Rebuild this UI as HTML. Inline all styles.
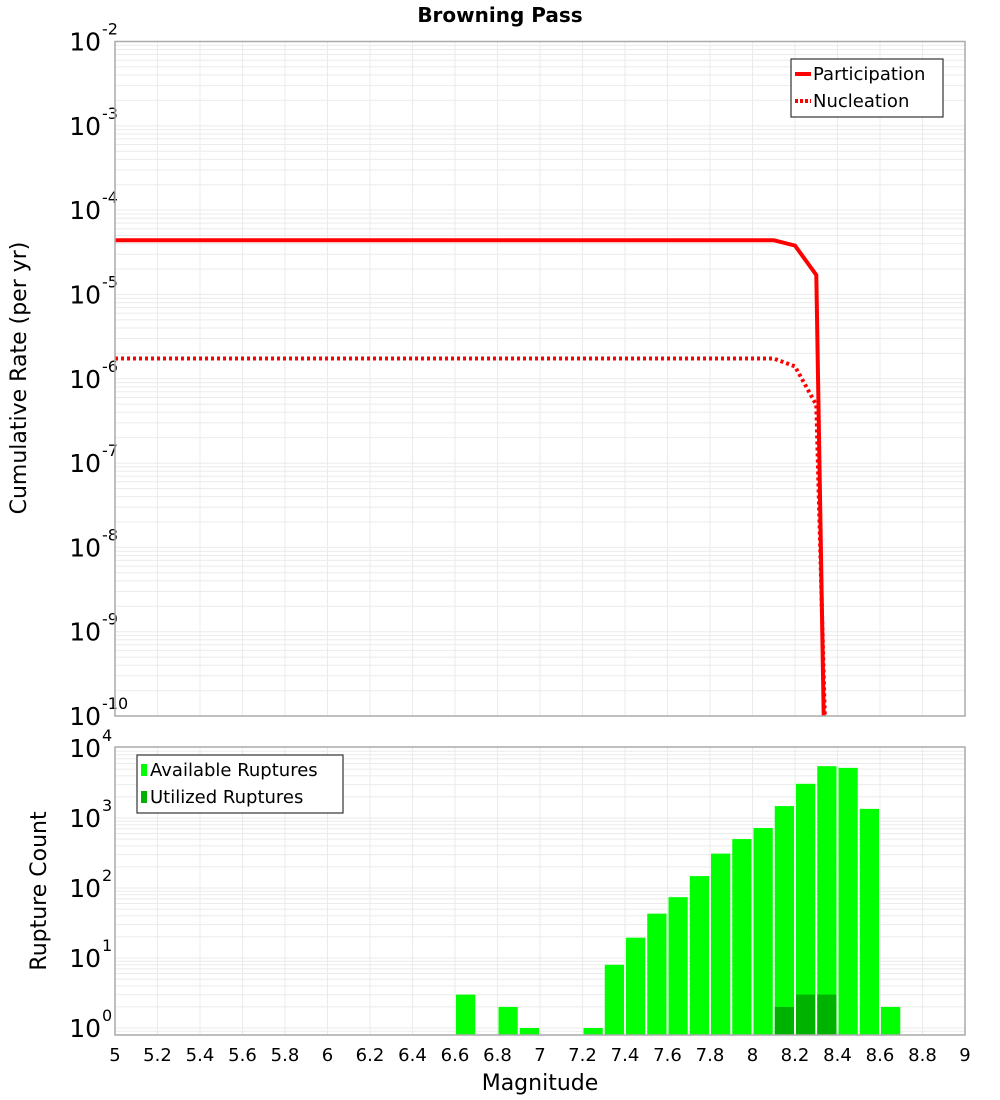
<!DOCTYPE html>
<html><head><meta charset="utf-8"><style>
html,body{margin:0;padding:0;background:#fff;}
svg{display:block;font-family:"DejaVu Sans","Liberation Sans",sans-serif;}
</style></head><body>
<svg id="chart" width="1000" height="1100" viewBox="0 0 1000 1100" xmlns="http://www.w3.org/2000/svg">
<text x="500" y="22" text-anchor="middle" font-size="20" font-weight="bold" fill="#000">Browning Pass</text>
<g id="topplot"></g>
<g id="botplot"></g>
<text transform="translate(26,378) rotate(-90)" text-anchor="middle" font-size="22" fill="#000">Cumulative Rate (per yr)</text>
<text transform="translate(46,891) rotate(-90)" text-anchor="middle" font-size="22" fill="#000">Rupture Count</text>
<text x="540" y="1090" text-anchor="middle" font-size="22" fill="#000">Magnitude</text>
</svg>
<script>
const partMags = [5.0, 8.1, 8.2, 8.3, 8.335];
const partVals = [4.4e-5, 4.4e-5, 3.8e-5, 1.7e-5, 1e-10];
const nuclMags = [5.0, 8.1, 8.2, 8.3, 8.34];
const nuclVals = [1.74e-6, 1.74e-6, 1.4e-6, 4.9e-7, 1e-10];
const binMags = [6.6, 6.8, 6.9, 7.2, 7.3, 7.4, 7.5, 7.6, 7.7, 7.8, 7.9, 8.0, 8.1, 8.2, 8.3, 8.4, 8.5, 8.6];
const availCounts = [3, 2, 1, 1, 8, 19.5, 43, 74, 148, 310, 500, 720, 1480, 3080, 5500, 5200, 1350, 2];
const utilMags = [8.1, 8.2, 8.3];
const utilCounts = [2, 3, 3];
const xTicks = ["5","5.2","5.4","5.6","5.8","6","6.2","6.4","6.6","6.8","7","7.2","7.4","7.6","7.8","8","8.2","8.4","8.6","8.8","9"];
const topDecades = [-2,-3,-4,-5,-6,-7,-8,-9,-10];
const botDecades = [4,3,2,1,0];

const NS="http://www.w3.org/2000/svg";
const L=115,R=965;
const X=m=>L+(m-5)*(R-L)/4;
const T0=41.5,T1=716;
const yTop=v=>T0+(-2-Math.log10(v))*(T1-T0)/8;
const B0=747,B1=1035;
const yBot=v=>1028-Math.log10(v)*70;
function el(p,tag,a){const e=document.createElementNS(NS,tag);for(const k in a)e.setAttribute(k,a[k]);p.appendChild(e);return e;}
const gTop=document.getElementById('topplot'),gBot=document.getElementById('botplot');

function grid(g,y0,y1,decY,lo,hi){
  for(let d=lo;d<hi;d++)for(let k=1;k<10;k++){const y=decY(Math.pow(10,d)*k);
    if(y<y0||y>y1)continue;
    const ln=el(g,'line',{x1:L,x2:R,y1:y,y2:y,stroke:'#ebebeb','stroke-width':1});
    
    }
  for(let i=0;i<xTicks.length;i++){const x=X(+xTicks[i]);
    const ln=el(g,'line',{x1:x,x2:x,y1:y0,y2:y1,stroke:'#ebebeb','stroke-width':1});
    
    }
}
grid(gTop,T0,T1,yTop,-10,-1);
grid(gBot,B0,B1,yBot,-1,4);

function ylabels(g,decs,yf){
  for(const d of decs){const y=yf(Math.pow(10,d));
    const t=el(g,'text',{x:101,y:y+9,'text-anchor':'end','font-size':25,fill:'#000'});
    
    
    t.textContent='10';
    const s=el(g,'text',{x:102,y:y-7,'font-size':16,fill:'#000'});
    
    
    s.textContent=String(d);
  }
}
ylabels(gTop,topDecades,yTop);
ylabels(gBot,botDecades,yBot);

function line(mags,vals,attrs,name){
  const pts=mags.map((m,i)=>X(m).toFixed(1)+','+Math.min(yTop(vals[i]),T1+2).toFixed(1)).join(' ');
  const p=el(gTop,'polyline',Object.assign({points:pts,fill:'none',stroke:'#ff0000','stroke-width':4},attrs));
  
  
}
line(partMags,partVals,{},'participation-line');
line(nuclMags,nuclVals,{'stroke-dasharray':'3,3'},'nucleation-line');

for(let i=0;i<binMags.length;i++){const x=X(binMags[i])+1,w=X(binMags[i]+0.1)-X(binMags[i])-2;const y=yBot(availCounts[i]);
  const r=el(gBot,'rect',{x:x,y:y,width:w,height:B1-y,fill:'#00ff00'});
  
  }
for(let i=0;i<utilMags.length;i++){const x=X(utilMags[i])+1,w=X(utilMags[i]+0.1)-X(utilMags[i])-2;const y=yBot(utilCounts[i]);
  const r=el(gBot,'rect',{x:x,y:y,width:w,height:B1-y,fill:'#00b200'});
  
  }

for(const [g,y0,y1] of [[gTop,T0,T1],[gBot,B0,B1]]){
  const f=el(g,'rect',{x:L,y:y0,width:R-L,height:y1-y0,fill:'none',stroke:'#aaaaaa','stroke-width':1.5});
  
  }

for(const t of xTicks){const x=X(+t);
  const e=el(gBot,'text',{x:x,y:1061,'text-anchor':'middle','font-size':18,fill:'#000'});
  
  
  e.textContent=t;}

function legend(g,x,y,w,h,items,name){
  const lg=el(g,'g',{});
  
  
  el(lg,'rect',{x:x,y:y,width:w,height:h,fill:'#fff',stroke:'#333','stroke-width':1.2});
  items.forEach((it,i)=>{const cy=y+15+i*27;
    if(it.type==='line'){const l=el(lg,'line',{x1:x+4,x2:x+20,y1:cy,y2:cy,stroke:'#f00','stroke-width':4});if(it.dash)l.setAttribute('stroke-dasharray','3,2');}
    else{el(lg,'rect',{x:x+4,y:cy-6,width:6,height:12,fill:it.color});}
    const t=el(lg,'text',{x:x+(it.type==='line'?22:13),y:cy+6,'font-size':18,fill:'#000'});
    
    
    t.textContent=it.label;});
}
legend(gTop,791,59,152,58,[{type:'line',label:'Participation'},{type:'line',dash:true,label:'Nucleation'}],'rate-legend');
legend(gBot,137,755,206,58,[{type:'rect',color:'#00ff00',label:'Available Ruptures'},{type:'rect',color:'#00b200',label:'Utilized Ruptures'}],'count-legend');
</script>
</body></html>
